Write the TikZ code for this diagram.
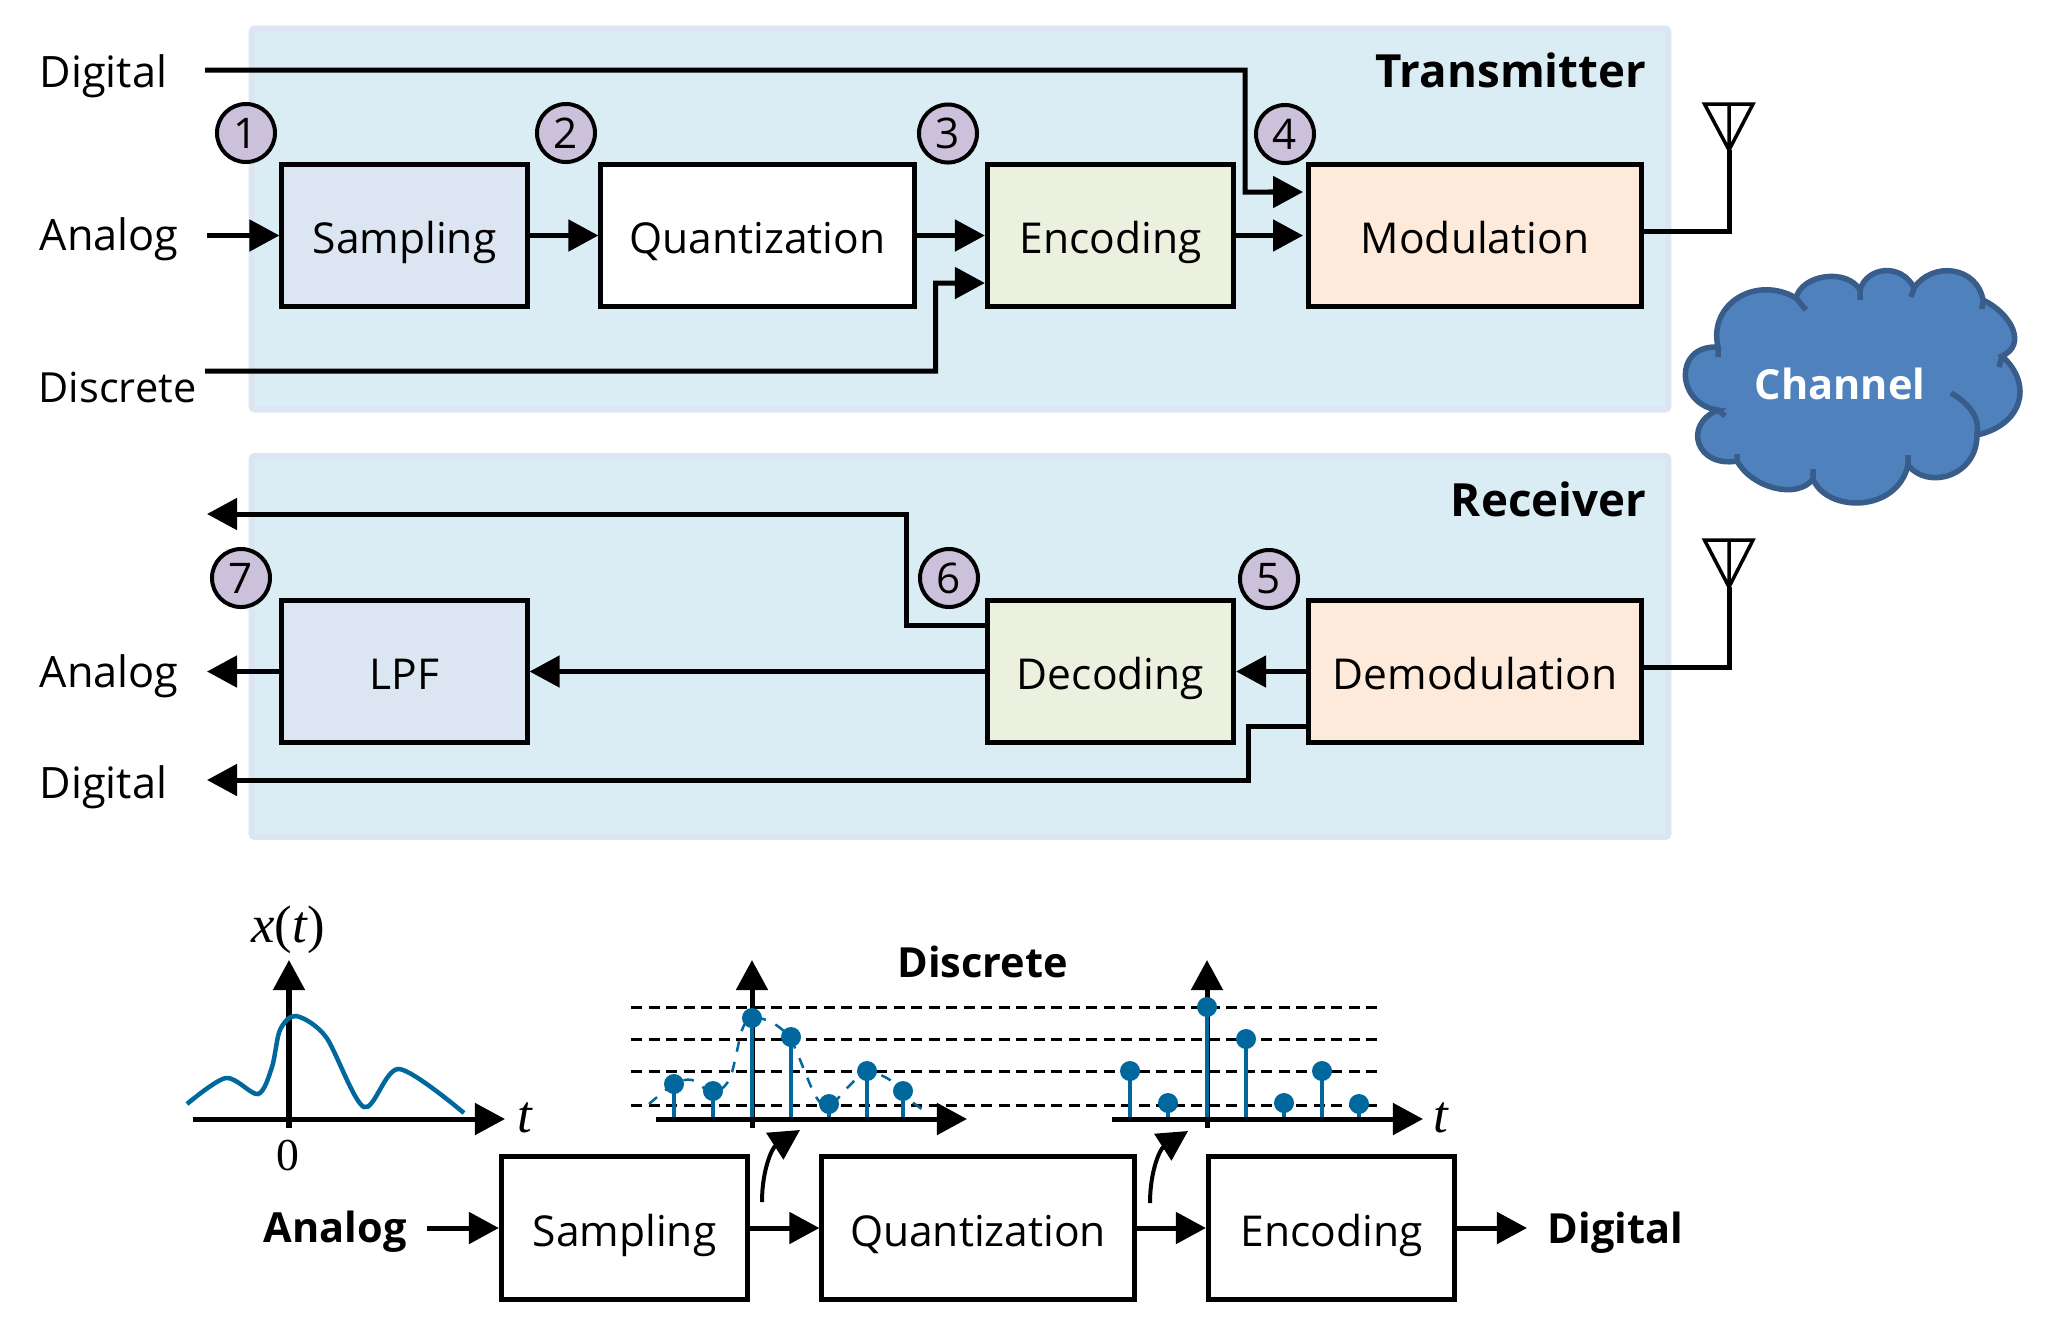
\documentclass[tikz,border=0pt]{standalone}
\usepackage{fontspec}
\setmainfont{Open Sans}
\newfontfamily\plotfont{Liberation Serif}
\usetikzlibrary{arrows.meta}

\definecolor{panelfill}{HTML}{DBEDF4}
\definecolor{panelline}{HTML}{DCE6F2}
\definecolor{samplefill}{HTML}{DCE6F2}
\definecolor{codefill}{HTML}{EBF1DE}
\definecolor{modfill}{HTML}{FDEADA}
\definecolor{markfill}{HTML}{CCC1DA}
\definecolor{cloudfill}{HTML}{4F81BD}
\definecolor{cloudline}{HTML}{385D8A}
\definecolor{signal}{HTML}{00689C}

\tikzset{
  panel/.style={draw=panelline, fill=panelfill, line width=0.06cm, rounded corners=1pt, minimum width=14.16cm, minimum height=3.81cm},
  blockbox/.style={draw, line width=0.05cm, text height=0.36cm, text depth=0pt, font=\fontsize{12.1}{14}\selectfont},
  stepmark/.style={circle, draw, fill=markfill, line width=0.04cm, minimum size=0.58cm, inner sep=0pt, font=\fontsize{12}{14}\selectfont},
  wire/.style={->, >={Triangle[length=0.3cm,width=0.31cm]}, line width=0.05cm},
  axisline/.style={->, >={Triangle[length=0.3cm,width=0.31cm]}, line width=0.05cm},
  sidelabel/.style={anchor=base west, inner sep=0pt, font=\fontsize{12.3}{14}\selectfont},
  boldlabel/.style={inner sep=0pt, font=\fontsize{11.8}{14}\selectfont\bfseries},
  panellabel/.style={anchor=base east, inner sep=0pt, font=\fontsize{13}{15}\selectfont\bfseries},
  plotlabel/.style={inner sep=0pt, font=\fontsize{15}{17}\selectfont\plotfont},
  antenna/.style={line width=0.035cm, line join=miter},
  level/.style={dashed, dash pattern=on 0.11cm off 0.065cm, line width=0.03cm},
  cloudedge/.style={draw=cloudline, line width=0.055cm}
}

\begin{document}
\begin{tikzpicture}[x=0.01cm, y=-0.01cm]
    \useasboundingbox (0,0) rectangle (2059,1317);

    % Panels
    \node[panel] (txpanel) at (960,219) {};
    \node[panel] (rxpanel) at (960,646.5) {};
    \node[panellabel] (txname) at (1647,87) {Transmitter};
    \node[panellabel] (rxname) at (1647,516) {Receiver};

    % Transmitter blocks
    \node[blockbox, fill=samplefill, minimum width=2.45cm, minimum height=1.42cm] (txsamp) at (404.5,235.5) {Sampling};
    \node[blockbox, fill=white, minimum width=3.13cm, minimum height=1.42cm] (txquant) at (757.5,235.5) {Quantization};
    \node[blockbox, fill=codefill, minimum width=2.46cm, minimum height=1.42cm] (txenc) at (1110.5,235.5) {Encoding};
    \node[blockbox, fill=modfill, minimum width=3.33cm, minimum height=1.42cm] (txmod) at (1475,235.5) {Modulation};

    % Receiver blocks
    \node[blockbox, fill=samplefill, minimum width=2.45cm, minimum height=1.42cm] (rxlpf) at (404.5,671.5) {LPF};
    \node[blockbox, fill=codefill, minimum width=2.46cm, minimum height=1.42cm] (rxdec) at (1110.5,671.5) {Decoding};
    \node[blockbox, fill=modfill, minimum width=3.33cm, minimum height=1.42cm] (rxdem) at (1475,671.5) {Demodulation};

    % Side labels
    \node[sidelabel] (txdig) at (39,87) {Digital};
    \node[sidelabel] (txana) at (39,250) {Analog};
    \node[sidelabel, font=\fontsize{11.8}{14}\selectfont] (txdis) at (38,402) {Discrete};
    \node[sidelabel] (rxana) at (39,687) {Analog};
    \node[sidelabel] (rxdig) at (39,798) {Digital};

    % Free ends
    \coordinate (txdigin) at (205,70);
    \coordinate (txanain) at (207,235.5);
    \coordinate (txdisin) at (205,371);
    \coordinate (rxtop) at (207,514);
    \coordinate (rxanaout) at (207,671.5);
    \coordinate (rxdigout) at (207,780);
    \coordinate (txant) at (1729,150);
    \coordinate (rxant) at (1729,587);

    % Transmitter connections
    \draw[wire, shorten >=0.8pt] (txdigin) -| (1245,192) -- ([yshift=0.435cm]txmod.west);
    \draw[wire] (txanain) -- (txsamp);
    \draw[wire] (txsamp) -- (txquant);
    \draw[wire] (txquant) -- (txenc);
    \draw[wire] (txdisin) -| (935.5,283) -- ([yshift=-0.475cm]txenc.west);
    \draw[wire, shorten >=0.8pt] (txenc) -- (txmod);
    \draw[line width=0.05cm] ([yshift=0.045cm]txmod.east) -| (txant);

    % Receiver connections
    \draw[wire] ([yshift=0.455cm]rxdec.west) -| (906,514) -- (rxtop);
    \draw[wire] (rxdec) -- (rxlpf);
    \draw[wire] (rxlpf) -- (rxanaout);
    \draw[wire] (rxdem) -- (rxdec);
    \draw[wire] ([yshift=-0.545cm]rxdem.west) -| (1248,780) -- (rxdigout);
    \draw[line width=0.05cm] ([yshift=0.045cm]rxdem.east) -| (rxant);

    % Antennas
    \draw[antenna] (1704.5,104) -- (1753,104) -- (txant) -- cycle (1729,104) -- (txant);
    \draw[antenna] (1704.5,540) -- (1753,540) -- (rxant) -- cycle (1729,540) -- (rxant);

    % Step marks
    \node[stepmark] (mark1) at (246,133) {1};
    \node[stepmark] (mark2) at (566,133) {2};
    \node[stepmark] (mark3) at (948,133.5) {3};
    \node[stepmark] (mark4) at (1285,134) {4};
    \node[stepmark] (mark5) at (1269,579) {5};
    \node[stepmark] (mark6) at (949,578) {6};
    \node[stepmark] (mark7) at (241,578) {7};

    % Channel cloud
    \begin{scope}[shift={(2,0)}]
    \path[fill=cloudfill, cloudedge] (1716,347)
        .. controls (1706,303) and (1755,275) .. (1794,298)
        .. controls (1800,274) and (1845,268) .. (1858,290)
        .. controls (1865,266) and (1900,263) .. (1912,288)
        .. controls (1930,261) and (1975,266) .. (1981,300)
        .. controls (2010,314) and (2025,345) .. (2000,356)
        .. controls (2032,385) and (2020,425) .. (1975,435)
        .. controls (1975,477) and (1925,490) .. (1906,465)
        .. controls (1895,513) and (1825,513) .. (1811,479)
        .. controls (1795,500) and (1750,488) .. (1735,461)
        .. controls (1695,468) and (1680,425) .. (1716,410)
        .. controls (1675,405) and (1670,345) .. (1716,347) -- cycle;
    \draw[cloudedge] (1794,298) -- (1804,310) (1858,290) -- (1858,300) (1912,288) -- (1909,297)
        (1981,300) -- (1980,309) (2000,356) -- (1997,367) (1906,465) -- (1906,455)
        (1811,479) -- (1811,469) (1735,461) -- (1735,454) (1716,410) -- (1723,416)
        (1716,347) -- (1716,357);
    \draw[cloudedge] (1949,393) .. controls (1970,405) and (1978,420) .. (1975,435);
    \end{scope}
    \node[boldlabel, anchor=base, text=white] (channel) at (1840,399) {Channel};

    % Continuous signal
    \draw[axisline] (289,1128) -- (289,960);
    \draw[axisline] (193,1119) -- (505,1119);
    \draw[signal, line width=0.045cm] plot[smooth] coordinates {(187,1104) (226,1078) (258,1094) (272,1067) (280,1030) (296,1016) (326,1037) (364,1107) (399,1069) (464,1113)};
    \node[plotlabel] (xlabel) at (288,930) {\itshape x\upshape(\itshape t\upshape)};
    \node[plotlabel, font=\fontsize{13}{15}\selectfont\plotfont] (zero) at (288,1156) {0};
    \node[plotlabel] (tlabela) at (525,1118) {\itshape t};

    % Quantization levels
    \foreach \lev in {1007,1039,1071,1105}
        \draw[level] (631,\lev) -- (1381,\lev);
    \node[boldlabel, anchor=base] (discrete) at (982.5,977) {Discrete};

    % Sampled signal
    \draw[axisline] (752,1128) -- (752,960);
    \draw[axisline] (656,1119) -- (967,1119);
    \draw[signal, dashed, line width=0.025cm] plot[smooth] coordinates {(649,1104) (674,1084) (692,1080) (713,1093) (730,1078) (742,1030) (752,1018) (771,1022) (791,1040) (815,1095) (829,1106) (850,1085) (867,1071) (890,1080) (903,1095) (926,1112)};
    \foreach \xs/\ys in {674/1084,713/1091,752/1018,791/1037,829/1104,867/1071,903/1091} {
        \draw[signal, line width=0.045cm] (\xs,1117) -- (\xs,\ys);
        \fill[signal] (\xs,\ys) circle (0.1cm);
    }

    % Quantized signal
    \draw[axisline] (1207,1128) -- (1207,960);
    \draw[axisline] (1112,1119) -- (1423,1119);
    \foreach \xs/\ys in {1130/1071,1168/1103,1207/1007,1246/1039,1284/1103,1322/1071,1359/1104} {
        \draw[signal, line width=0.045cm] (\xs,1117) -- (\xs,\ys);
        \fill[signal] (\xs,\ys) circle (0.1cm);
    }
    \node[plotlabel] (tlabelb) at (1441,1118) {\itshape t};

    % Conversion chain
    \node[blockbox, minimum width=2.46cm, minimum height=1.42cm] (chsamp) at (624.5,1228) {Sampling};
    \node[blockbox, minimum width=3.12cm, minimum height=1.42cm] (chquant) at (978,1228) {Quantization};
    \node[blockbox, minimum width=2.46cm, minimum height=1.42cm] (chenc) at (1331.5,1228) {Encoding};
    \node[boldlabel, anchor=base west] (chana) at (263,1242) {Analog};
    \node[boldlabel, anchor=base west] (chdig) at (1547,1243) {Digital};
    \coordinate (chanain) at (427,1228);
    \coordinate (chdigout) at (1527,1228);
    \draw[wire] (chanain) -- (chsamp);
    \draw[wire] (chsamp) -- (chquant);
    \draw[wire] (chquant) -- (chenc);
    \draw[wire] (chenc) -- (chdigout);

    % Curved pointers
    \coordinate (pointa) at (800,1130);
    \coordinate (pointb) at (1188,1131);
    \draw[axisline, line width=0.04cm] (762,1202) .. controls (762,1170) and (772,1148) .. (pointa);
    \draw[axisline, line width=0.04cm] (1150,1203) .. controls (1150,1171) and (1160,1149) .. (pointb);
\end{tikzpicture}
\end{document}
